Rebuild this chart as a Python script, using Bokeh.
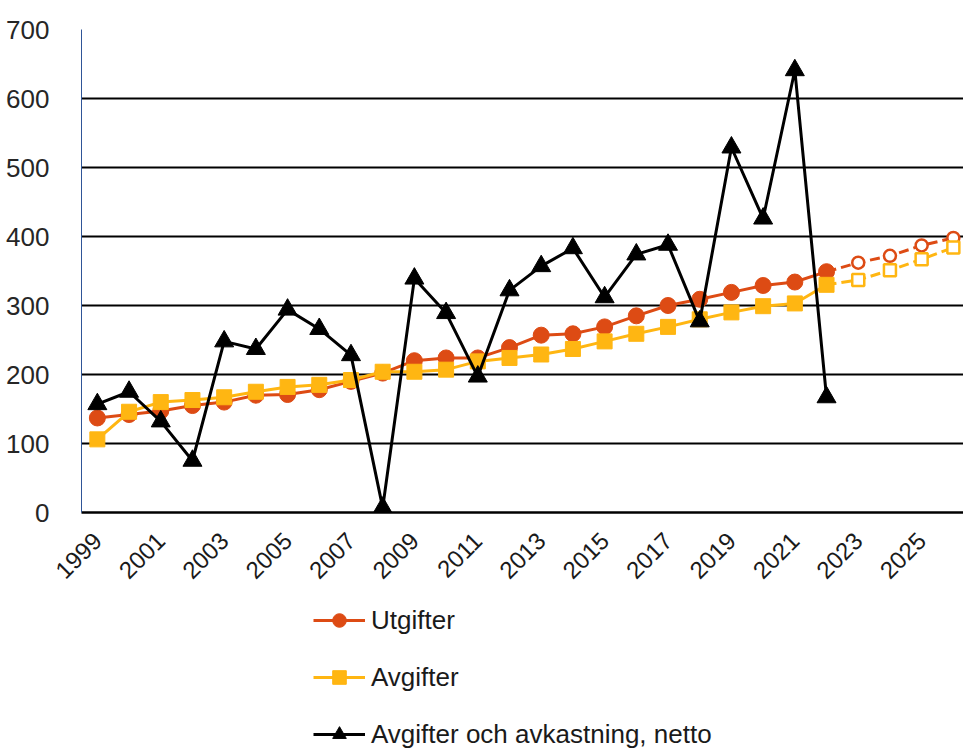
import math
from bokeh.plotting import figure
from bokeh.layouts import column
from bokeh.models import Legend, LegendItem, FixedTicker, Range1d
from bokeh.embed import file_html
from bokeh.resources import INLINE

years = list(range(1999, 2027))
utgifter = [137, 142, 147, 155, 160, 170, 171, 178, 190, 202, 220, 224, 224,
            239, 257, 259, 269, 285, 300, 309, 319, 329, 334, 349,
            362, 372, 387, 398]
avgifter = [106, 146, 160, 163, 167, 175, 182, 185, 192, 204, 204, 207, 219,
            224, 229, 237, 248, 259, 269, 280, 290, 299, 303, 330,
            337, 351, 367, 384]
netto_years = list(range(1999, 2023))
netto = [157, 175, 132, 75, 248, 237, 294, 266, 228, 7, 339, 289, 197,
         322, 357, 383, 312, 374, 388, 277, 529, 426, 641, 167]
tick_years = list(range(1999, 2026, 2))
y_ticks = [0, 100, 200, 300, 400, 500, 600, 700]
series_names = ["Utgifter", "Avgifter", "Avgifter och avkastning, netto"]

RED = "#DD4B14"
YEL = "#FFB612"
BLK = "#000000"
FONT = "Liberation Sans"

n_hist = 24  # 1999..2022 actual

p = figure(width=963, height=600, output_backend="svg", toolbar_location=None,
           x_range=Range1d(1998.5, 2026.32), y_range=Range1d(0, 700),
           min_border_left=81, min_border_top=29, min_border_right=0,
           min_border_bottom=88)
p.outline_line_color = None
p.background_fill_color = "white"
p.border_fill_color = "white"

# grid
p.xgrid.grid_line_color = None
p.ygrid.ticker = FixedTicker(ticks=[100, 200, 300, 400, 500, 600])
p.ygrid.grid_line_color = "black"
p.ygrid.grid_line_width = 2

# y axis
p.yaxis.ticker = FixedTicker(ticks=y_ticks)
p.yaxis.axis_line_color = "#2F5597"
p.yaxis.axis_line_width = 1
p.yaxis.major_tick_line_color = None
p.yaxis.minor_tick_line_color = None
p.yaxis.major_label_text_font = FONT
p.yaxis.major_label_text_font_size = "26px"
p.yaxis.major_label_text_color = "#262626"
p.yaxis.major_label_standoff = 26

# x axis
p.xaxis.ticker = FixedTicker(ticks=tick_years)
p.xaxis.axis_line_color = "black"
p.xaxis.axis_line_width = 2.5
p.xaxis.major_tick_line_color = None
p.xaxis.minor_tick_line_color = None
p.xaxis.major_label_orientation = math.pi / 4
p.xaxis.major_label_text_font = FONT
p.xaxis.major_label_text_font_size = "24px"
p.xaxis.major_label_text_color = "#1a1a1a"
p.xaxis.major_label_standoff = 18

# Utgifter
p.line(years[:n_hist], utgifter[:n_hist], line_color=RED, line_width=3)
p.line(years[n_hist - 1:], utgifter[n_hist - 1:], line_color=RED, line_width=3, line_dash="10 5")
p.scatter(years[:n_hist], utgifter[:n_hist], marker="circle", size=16,
          fill_color=RED, line_color=RED)
p.scatter(years[n_hist:], utgifter[n_hist:], marker="circle", size=12,
          fill_color="white", line_color=RED, line_width=2.5)

# Avgifter
p.line(years[:n_hist], avgifter[:n_hist], line_color=YEL, line_width=3)
p.line(years[n_hist - 1:], avgifter[n_hist - 1:], line_color=YEL, line_width=3, line_dash="10 5")
p.scatter(years[:n_hist], avgifter[:n_hist], marker="square", size=15,
          fill_color=YEL, line_color=YEL)
p.scatter(years[n_hist:], avgifter[n_hist:], marker="square", size=12,
          fill_color="white", line_color=YEL, line_width=2.5)

# Netto
p.line(netto_years, netto, line_color=BLK, line_width=3)
p.scatter(netto_years, netto, marker="triangle", size=19,
          fill_color=BLK, line_color=BLK)

# Legend figure (below the chart); its frame is aligned with the chart's frame
lg = figure(width=963, height=151, output_backend="svg", toolbar_location=None,
            x_range=Range1d(0, 1), y_range=Range1d(0, 1),
            min_border_left=0, min_border_right=0, min_border_top=0, min_border_bottom=0)
lg.axis.visible = False
lg.grid.visible = False
lg.outline_line_color = None
lg.border_fill_color = "white"

items = []
for name, col, mk, sz in [(series_names[0], RED, "circle", 16),
                          (series_names[1], YEL, "square", 15),
                          (series_names[2], BLK, "triangle", 19)]:
    # placed outside the visible range: only the legend swatch shows
    r1 = lg.line([5, 6], [5, 6], line_color=col, line_width=3)
    r2 = lg.scatter([5], [5], marker=mk, size=sz, fill_color=col, line_color=col)
    items.append(LegendItem(label=name, renderers=[r1, r2]))

legend = Legend(items=items, orientation="vertical")
legend.label_text_font = FONT
legend.label_text_font_size = "26px"
legend.label_text_color = "#1a1a1a"
legend.glyph_width = 52
legend.glyph_height = 34
legend.label_height = 34
legend.spacing = 23
legend.padding = 0
legend.margin = 0
legend.label_standoff = 6
legend.border_line_color = None
legend.background_fill_alpha = 0
legend.location = (232, 0)
lg.add_layout(legend, "center")

layout = column(p, lg, spacing=0)
open("out.html", "w").write(file_html(layout, INLINE))
